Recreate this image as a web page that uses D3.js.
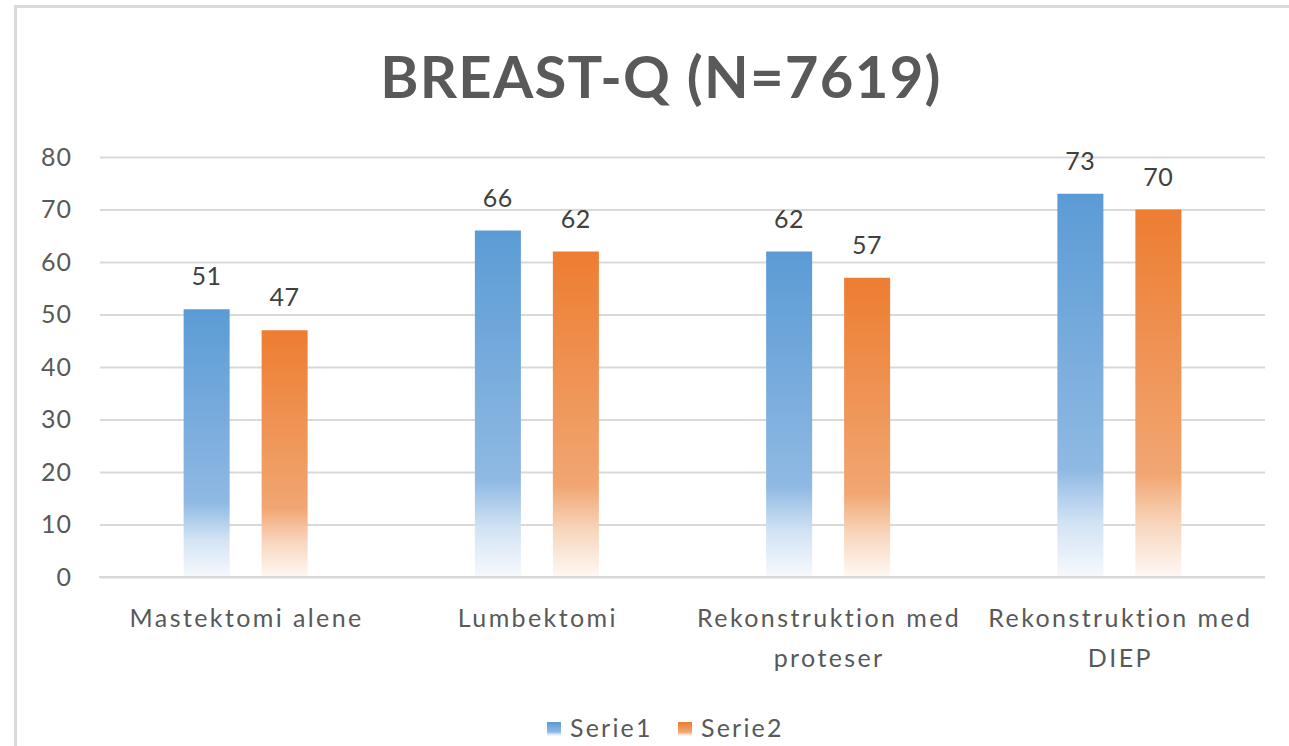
<!DOCTYPE html>
<html>
<head>
<meta charset="utf-8">
<script src="https://cdn.jsdelivr.net/npm/d3@7"></script>
<style>
  body { margin: 0; background: #fff; }
  svg { display: block; }
  text { font-family: Lato, "Open Sans", sans-serif; }
</style>
</head>
<body>
<div class="visContainer"></div>
<script>
// Data.
const categories = ['Mastektomi alene', 'Lumbektomi', 'Rekonstruktion med proteser', 'Rekonstruktion med DIEP'];
const seriesNames = ['Serie1', 'Serie2'];
const serie1 = [51, 66, 62, 73];
const serie2 = [47, 62, 57, 70];
const yTicks = [0, 10, 20, 30, 40, 50, 60, 70, 80];
const chartTitle = 'BREAST-Q (N=7619)';

// SVG constants.
const width = 1289;
const height = 746;
const plot = { left: 100, right: 1265, top: 157, bottom: 577 };

const svg = d3.select('.visContainer')
              .append('svg')
              .attr('width', width)
              .attr('height', height);

// Gradients (Excel style fade to white at the bottom).
const defs = svg.append('defs');
const gradStops = {
  Serie1: [[0, '#5b9bd5'], [0.72, '#8fb9e3'], [0.86, '#d2e3f4'], [1, '#f6f9fd']],
  Serie2: [[0, '#ed7d31'], [0.72, '#f1a672'], [0.86, '#f8d7bf'], [1, '#fef8f4']]
};
seriesNames.forEach((s) => {
  const g = defs.append('linearGradient')
                .attr('id', 'grad-' + s)
                .attr('x1', 0).attr('y1', 0).attr('x2', 0).attr('y2', 1);
  gradStops[s].forEach((st) => {
    g.append('stop').attr('offset', st[0]).attr('stop-color', st[1]);
  });
});

// Chart frame.
svg.append('rect')
   .attr('x', 15.5)
   .attr('y', 6.5)
   .attr('width', width + 20)
   .attr('height', height + 20)
   .attr('fill', 'none')
   .attr('stroke', '#d9d9d9')
   .attr('stroke-width', 3);

// Title.
svg.append('text')
   .attr('x', 661)
   .attr('y', 98)
   .attr('text-anchor', 'middle')
   .attr('font-size', 58)
   .attr('font-weight', 'bold')
   .attr('letter-spacing', 1.3)
   .attr('fill', '#595959')
   .text(chartTitle);

// Scales.
const y = d3.scaleLinear().domain([0, 80]).range([plot.bottom, plot.top]);
const x0 = d3.scaleBand().domain(categories).range([plot.left, plot.right]);
const groupW = 124;
const x1 = d3.scaleBand()
             .domain(seriesNames)
             .range([x0.bandwidth() / 2 - groupW / 2, x0.bandwidth() / 2 + groupW / 2])
             .paddingInner(0.41);

// Gridlines + y labels.
const yAxis = d3.axisLeft(y)
                .tickValues(yTicks)
                .tickSize(-(plot.right - plot.left))
                .tickPadding(28);
const yG = svg.append('g')
              .attr('transform', 'translate(' + plot.left + ',0)')
              .call(yAxis);
yG.select('.domain').remove();
yG.selectAll('.tick line')
  .attr('stroke', '#d9d9d9')
  .attr('stroke-width', 2);
yG.selectAll('.tick text')
  .attr('font-size', 25)
  .attr('letter-spacing', 1)
  .attr('fill', '#595959')
  .style('font-family', 'Lato, sans-serif');

// Bars.
const rows = categories.map((c, i) => ({ cat: c, values: [serie1[i], serie2[i]] }));
const groups = svg.append('g')
                  .selectAll('g')
                  .data(rows)
                  .enter()
                  .append('g')
                  .attr('transform', (d) => 'translate(' + x0(d.cat) + ',0)');

groups.selectAll('rect')
      .data((d) => d.values.map((v, i) => ({ s: seriesNames[i], v: v })))
      .enter()
      .append('rect')
      .attr('x', (d) => x1(d.s))
      .attr('y', (d) => y(d.v))
      .attr('width', x1.bandwidth())
      .attr('height', (d) => y(0) - y(d.v))
      .attr('fill', (d) => 'url(#grad-' + d.s + ')');

groups.selectAll('text.lbl')
      .data((d) => d.values.map((v, i) => ({ s: seriesNames[i], v: v })))
      .enter()
      .append('text')
      .attr('class', 'lbl')
      .attr('x', (d) => x1(d.s) + x1.bandwidth() / 2)
      .attr('y', (d) => y(d.v) - 24)
      .attr('text-anchor', 'middle')
      .attr('font-size', 25)
      .attr('letter-spacing', 0.5)
      .attr('fill', '#404040')
      .text((d) => d.v);

// Baseline.
svg.append('line')
   .attr('x1', plot.left - 1)
   .attr('x2', plot.right)
   .attr('y1', y(0))
   .attr('y2', y(0))
   .attr('stroke', '#d9d9d9')
   .attr('stroke-width', 2);

// Category labels (wrapped).
function wrap(textSel, maxW) {
  textSel.each(function () {
    const t = d3.select(this);
    const words = t.text().split(/\s+/);
    const xPos = t.attr('x');
    t.text(null);
    let line = [];
    let tspan = t.append('tspan').attr('x', xPos).attr('dy', 0);
    words.forEach((w) => {
      line.push(w);
      tspan.text(line.join(' '));
      if (tspan.node().getComputedTextLength() > maxW && line.length > 1) {
        line.pop();
        tspan.text(line.join(' '));
        line = [w];
        tspan = t.append('tspan').attr('x', xPos).attr('dy', 40).text(w);
      }
    });
  });
}

svg.append('g')
   .selectAll('text')
   .data(categories)
   .enter()
   .append('text')
   .attr('x', (d) => x0(d) + x0.bandwidth() / 2 + 1)
   .attr('y', 627)
   .attr('text-anchor', 'middle')
   .attr('font-size', 25)
   .attr('letter-spacing', 2.4)
   .attr('fill', '#595959')
   .text((d) => d)
   .call(wrap, 285);

// Legend.
const legend = svg.append('g').attr('id', 'legend');
const legendX = [547, 678];
seriesNames.forEach((s, i) => {
  legend.append('rect')
        .attr('x', legendX[i])
        .attr('y', 722)
        .attr('width', 14)
        .attr('height', 14)
        .attr('fill', 'url(#grad-' + s + ')');
  legend.append('text')
        .attr('x', legendX[i] + 23)
        .attr('y', 737)
        .attr('font-size', 25)
        .attr('letter-spacing', 2.2)
        .attr('fill', '#595959')
        .text(s);
});
</script>
</body>
</html>
